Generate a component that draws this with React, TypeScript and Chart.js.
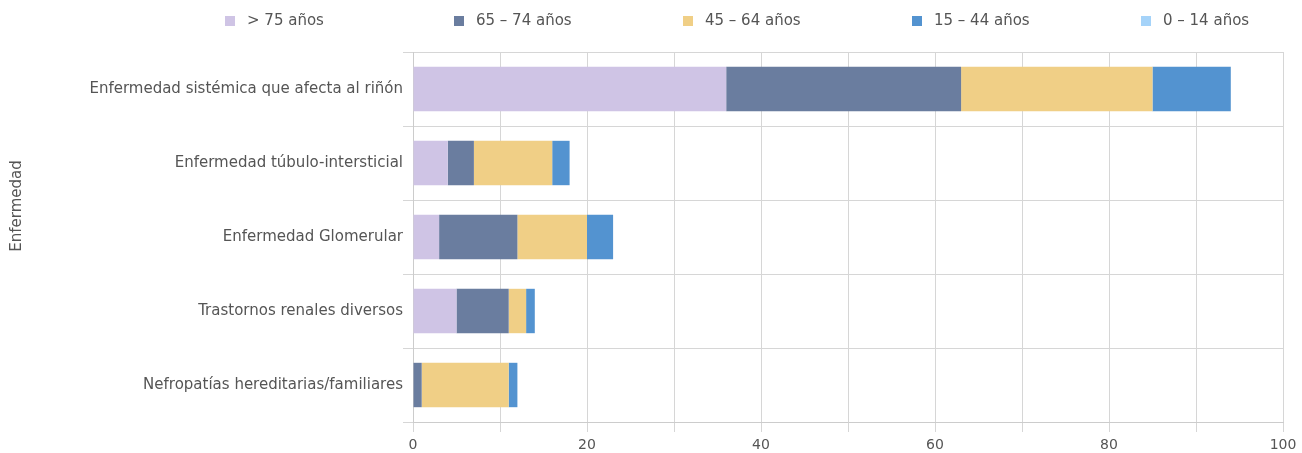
import React, { useEffect, useRef } from "react";
import { Chart, registerables } from "chart.js";

Chart.register(...registerables);

const categories = [
  "Enfermedad sistémica que afecta al riñón",
  "Enfermedad túbulo-intersticial",
  "Enfermedad Glomerular",
  "Trastornos renales diversos",
  "Nefropatías hereditarias/familiares",
];

const seriesLabels = ["> 75 años", "65 – 74 años", "45 – 64 años", "15 – 44 años", "0 – 14 años"];
const seriesColors = ["#cfc4e5", "#6a7d9f", "#f0cf86", "#5393d0", "#a5d3f9"];

const over75 = [36, 4, 3, 5, 0];
const from65to74 = [27, 3, 9, 6, 1];
const from45to64 = [22, 9, 8, 2, 10];
const from15to44 = [9, 2, 3, 1, 1];
const from0to14 = [0, 0, 0, 0, 0];

const xTickLabels = ["0", "20", "40", "60", "80", "100"];
const axisTitle = "Enfermedad";

const FONT = '"DejaVu Sans", sans-serif';

const customPlugin = {
  id: "customLegendTitle",
  afterDraw(chart: any) {
    const ctx = chart.ctx;
    ctx.save();
    ctx.font = `15px ${FONT}`;
    ctx.textBaseline = "middle";
    ctx.textAlign = "left";
    const startX = 225;
    const slot = 229;
    const y = 21;
    chart.data.datasets.forEach((ds: any, i: number) => {
      const x = startX + i * slot;
      ctx.fillStyle = ds.backgroundColor;
      ctx.fillRect(x, y - 5, 10, 10);
      ctx.fillStyle = "#555";
      ctx.fillText(ds.label, x + 22, y);
    });
    ctx.translate(17, 206);
    ctx.rotate(-Math.PI / 2);
    ctx.textAlign = "center";
    ctx.fillStyle = "#555";
    ctx.fillText(axisTitle, 0, 0);
    ctx.restore();
  },
};

export default function App() {
  const ref = useRef<HTMLCanvasElement>(null);
  useEffect(() => {
    if (!ref.current) return;
    const values = [over75, from65to74, from45to64, from15to44, from0to14];
    const chart = new Chart(ref.current, {
      type: "bar",
      data: {
        labels: categories,
        datasets: seriesLabels.map((label, i) => ({
          label,
          data: values[i],
          backgroundColor: seriesColors[i],
          borderWidth: 0,
          barPercentage: 0.6,
          categoryPercentage: 1,
        })),
      },
      plugins: [customPlugin],
      options: {
        indexAxis: "y",
        animation: false,
        responsive: false,
        maintainAspectRatio: false,
        layout: { padding: { top: 52, right: 19, left: 0, bottom: 0 } },
        plugins: {
          legend: { display: false },
          tooltip: { enabled: false },
        },
        scales: {
          x: {
            stacked: true,
            min: 0,
            max: 100,
            afterFit: (axis: any) => {
              axis.height = 31;
            },
            ticks: {
              stepSize: 10,
              autoSkip: false,
              maxRotation: 0,
              padding: 5,
              color: "#555",
              font: { family: FONT, size: 14 },
              callback: (v: any) => {
                const s = String(v);
                return xTickLabels.includes(s) ? s : "";
              },
            },
            grid: { color: "#d6d6d6", tickLength: 10, lineWidth: 1 },
            border: { color: "#cccccc" },
          },
          y: {
            stacked: true,
            afterFit: (axis: any) => {
              axis.width = 413;
            },
            ticks: {
              padding: 0,
              color: "#555",
              font: { family: FONT, size: 15 },
            },
            grid: { color: "#d6d6d6", tickLength: 10, lineWidth: 1, offset: true },
            border: { color: "#cccccc" },
          },
        },
      },
    });
    return () => chart.destroy();
  }, []);
  return (
    <div style={{ position: "fixed", left: 0, top: 0, width: 1302, height: 453, background: "#fff" }}>
      <canvas ref={ref} width={1302} height={453} />
    </div>
  );
}
